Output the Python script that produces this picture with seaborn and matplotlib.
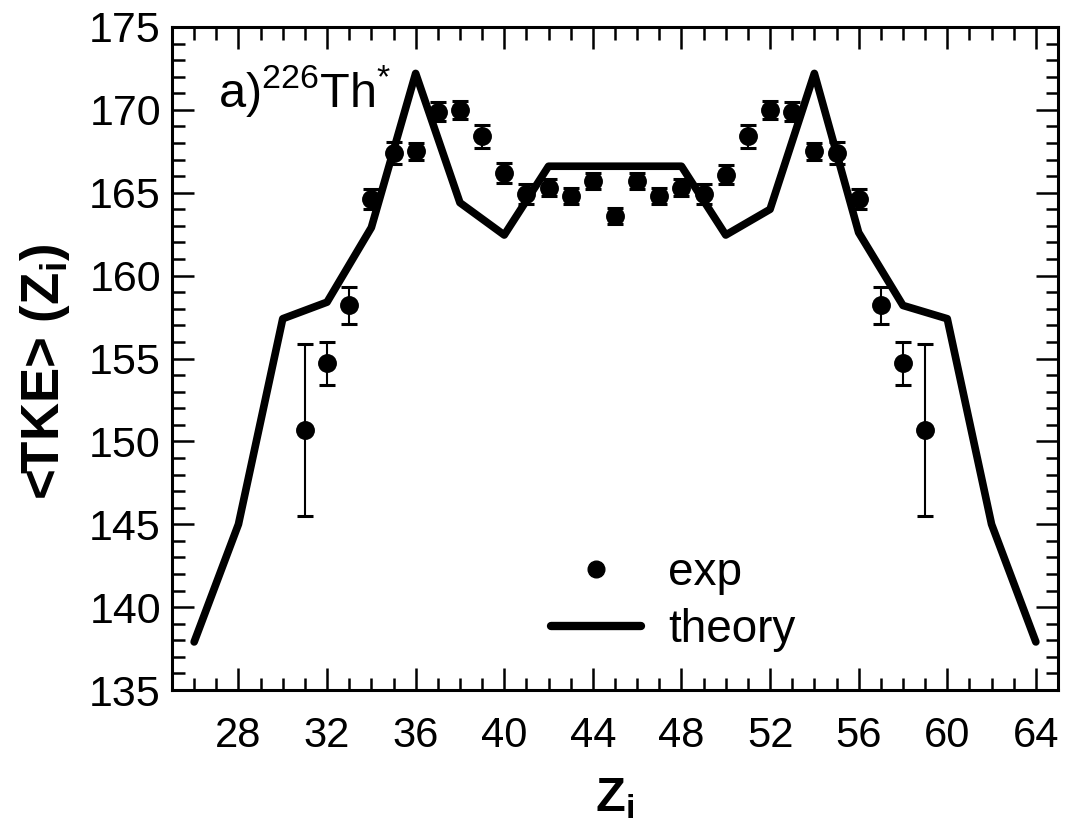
import matplotlib
matplotlib.use("Agg")
import matplotlib.pyplot as plt
from matplotlib.lines import Line2D
from matplotlib.ticker import MultipleLocator
import numpy as np
import pandas as pd
import seaborn as sns

# ---- data ----
z_theory = [26, 28, 30, 32, 34, 36, 38, 40, 42, 44, 46, 48, 50, 52, 54, 56, 58, 60, 62, 64]
tke_theory = [137.9, 145.0, 157.4, 158.4, 162.9, 172.2, 164.4, 162.45, 166.6, 166.6,
              166.6, 166.6, 162.45, 164.0, 172.2, 162.6, 158.2, 157.4, 145.0, 137.9]

z_exp = list(range(31, 60))
tke_exp = [150.7, 154.7, 158.2, 164.6, 167.4, 167.5, 169.9, 170.0, 168.4, 166.2,
           164.9, 165.3, 164.8, 165.7, 163.6, 165.7, 164.8, 165.3, 164.9, 166.1,
           168.4, 170.0, 169.9, 167.5, 167.4, 164.6, 158.2, 154.7, 150.7]
err_exp = [5.2, 1.3, 1.1, 0.6, 0.65, 0.5, 0.6, 0.55, 0.7, 0.6,
           0.6, 0.5, 0.5, 0.5, 0.5, 0.5, 0.5, 0.5, 0.6, 0.6,
           0.7, 0.55, 0.6, 0.5, 0.65, 0.6, 1.1, 1.3, 5.2]

x_major = [28, 32, 36, 40, 44, 48, 52, 56, 60, 64]
y_major = [135, 140, 145, 150, 155, 160, 165, 170, 175]

df_theory = pd.DataFrame({"Z": z_theory, "TKE": tke_theory})
df_exp = pd.DataFrame({"Z": z_exp, "TKE": tke_exp, "err": err_exp})

sns.set_style("ticks")
plt.rcParams["font.family"] = ["Liberation Sans", "DejaVu Sans"]
plt.rcParams["mathtext.fontset"] = "custom"
plt.rcParams["mathtext.rm"] = "Liberation Sans"
plt.rcParams["mathtext.it"] = "Liberation Sans:italic"
plt.rcParams["mathtext.bf"] = "Liberation Sans:bold"
for key in ["text.color", "axes.labelcolor", "xtick.color", "ytick.color", "axes.edgecolor"]:
    plt.rcParams[key] = "black"

fig = plt.figure(figsize=(10.91, 8.25), dpi=100)
ax = fig.add_axes([172 / 1091, 1 - 690 / 825, 886 / 1091, 663 / 825])

sns.lineplot(data=df_theory, x="Z", y="TKE", ax=ax, color="black", linewidth=5.5,
             estimator=None, sort=False, legend=False)
ax.errorbar(df_exp["Z"], df_exp["TKE"], yerr=df_exp["err"], fmt="none",
            ecolor="black", elinewidth=1.5, capsize=6, capthick=2.2, zorder=3)
sns.scatterplot(data=df_exp, x="Z", y="TKE", ax=ax, color="black", s=185,
                edgecolor="black", linewidth=0, zorder=4, legend=False)

ax.set_xlim(25, 65)
ax.set_ylim(135, 175)
ax.set_xticks(x_major)
ax.set_yticks(y_major)
ax.xaxis.set_minor_locator(MultipleLocator(1))
ax.yaxis.set_minor_locator(MultipleLocator(1))
ax.tick_params(which="both", direction="in", top=True, right=True, width=1.8,
               color="black", labelcolor="black")
ax.tick_params(which="major", length=16)
ax.tick_params(which="minor", length=9)
ax.tick_params(axis="x", which="major", labelsize=30, pad=19)
ax.tick_params(axis="y", which="major", labelsize=31, pad=8)
for sp in ax.spines.values():
    sp.set_linewidth(2.2)
    sp.set_color("black")

ax.set_xlabel(r"Z$_\mathbf{i}$", fontsize=35, fontweight="bold", labelpad=14, color="black")
ax.set_ylabel(r"<TKE> (Z$_\mathbf{i}$)", fontsize=38, fontweight="bold", color="black")
ax.yaxis.set_label_coords(-0.113, 0.48)

ax.text(0.052, 0.879, r"a)$^{226}$Th$^{*}$", transform=ax.transAxes,
        fontsize=35, ha="left", va="baseline", color="black")

handles = [Line2D([], [], marker="o", ls="none", color="black", markersize=12),
           Line2D([], [], color="black", linewidth=6)]
leg = ax.legend(handles, ["exp", "theory"], loc="upper left", bbox_to_anchor=(0.428, 0.21),
                frameon=False, fontsize=33, handlelength=1.95, handletextpad=0.6,
                borderpad=0, borderaxespad=0, labelspacing=0.28)
for t in leg.get_texts():
    t.set_color("black")

fig.savefig("out.png", dpi=100)
